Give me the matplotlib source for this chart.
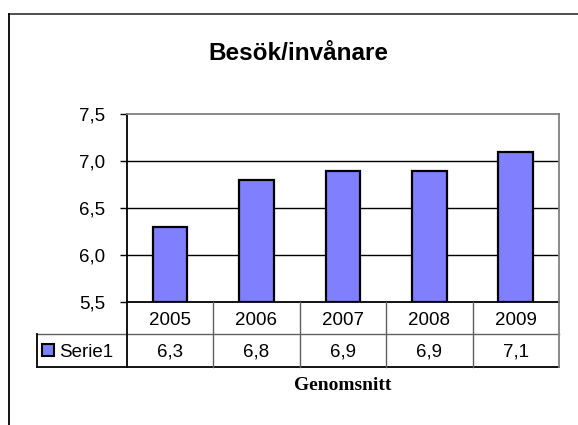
import matplotlib.pyplot as plt
from matplotlib.lines import Line2D
from matplotlib.patches import Rectangle

# data
years = ["2005", "2006", "2007", "2008", "2009"]
values = [6.3, 6.8, 6.9, 6.9, 7.1]
series_name = "Serie1"
yticks = [5.5, 6.0, 6.5, 7.0, 7.5]
title = "Besök/invånare"
xlabel = "Genomsnitt"

bar_color = "#8080FF"
W, H = 578, 425
fs = 13.5

plt.rcParams['font.family'] = ['Liberation Sans', 'DejaVu Sans']

fig = plt.figure(figsize=(W / 100, H / 100), dpi=100)

def fx(px):
    return px / W

def fy(py):
    return 1 - py / H

# outer chart border (left and top only visible)
fig.add_artist(Line2D([fx(9), fx(W)], [fy(14), fy(14)],
                      color="#404040", lw=1.3, transform=fig.transFigure))
fig.add_artist(Line2D([fx(9), fx(9)], [fy(H), fy(14)],
                      color="black", lw=1.3, transform=fig.transFigure))

# plot area
x0, x1 = 126.7, 559
y_top, y_bot = 114.3, 301.7
ax = fig.add_axes([fx(x0), fy(y_bot), fx(x1 - x0), fy(y_top) - fy(y_bot)])

x = list(range(len(years)))
ax.bar(x, [v - yticks[0] for v in values], bottom=yticks[0], width=0.4,
       color=bar_color, edgecolor="black", linewidth=1.6, zorder=3)
ax.set_xlim(-0.5, len(years) - 0.5)
ax.set_ylim(yticks[0], yticks[-1])
ax.set_yticks(yticks)
ax.set_yticklabels([f"{t:.1f}".replace(".", ",") for t in yticks], fontsize=fs)
ax.set_xticks([])
ax.tick_params(axis="y", length=5, width=1, pad=10.5, direction="out")
for t in yticks[1:-1]:
    ax.axhline(t, color="black", lw=1, zorder=1)
ax.spines["top"].set_color("#808080")
ax.spines["right"].set_color("#808080")
ax.spines["left"].set_color("black")
ax.spines["bottom"].set_color("black")
for s in ax.spines.values():
    s.set_linewidth(1.3)

fig.text(fx(298), fy(53), title, ha="center", va="center",
         fontsize=17.5, fontweight="bold")

# data table below plot
t_left = 37.3
t_bot = 366.7
ppu = (x1 - x0) / len(years)
tab = fig.add_axes([fx(t_left), fy(t_bot), fx(x1 - t_left), fy(y_bot) - fy(t_bot)])
xl = -0.5 - (x0 - t_left) / ppu
xr = len(years) - 0.5
tab.set_xlim(xl, xr)
tab.set_ylim(0, 2)
tab.axis("off")
gray = "#606060"
# horizontal lines
tab.plot([xl, xr], [1, 1], color=gray, lw=1, clip_on=False)
tab.plot([xl, xr], [0, 0], color="black", lw=1.3, clip_on=False)
# vertical lines
tab.plot([xl, xl], [0, 1], color="black", lw=1.3, clip_on=False)
tab.plot([-0.5, -0.5], [0, 2], color="black", lw=1.3, clip_on=False)
for i in range(1, len(years)):
    tab.plot([i - 0.5, i - 0.5], [0, 2], color=gray, lw=1, clip_on=False)
tab.plot([xr, xr], [0, 2], color="#808080", lw=1.3, clip_on=False)

for i, (yr, v) in enumerate(zip(years, values)):
    tab.text(i, 1.42, yr, ha="center", va="center", fontsize=fs)
    tab.text(i, 0.44, f"{v:.1f}".replace(".", ","), ha="center", va="center", fontsize=fs)

kx = xl + 4.5 / ppu
tab.add_patch(Rectangle((kx, 0.5 - 6 / 32.5), 12 / ppu, 12 / 32.5, facecolor=bar_color,
                        edgecolor="black", lw=1.5, clip_on=False))
tab.text(kx + 17 / ppu, 0.44, series_name, ha="left", va="center", fontsize=fs)

fig.text(fx((x0 + x1) / 2), fy(385), xlabel, ha="center", va="center",
         fontsize=14, fontweight="bold", family=["Liberation Serif", "DejaVu Serif"])

fig.savefig("out.png", dpi=100)
